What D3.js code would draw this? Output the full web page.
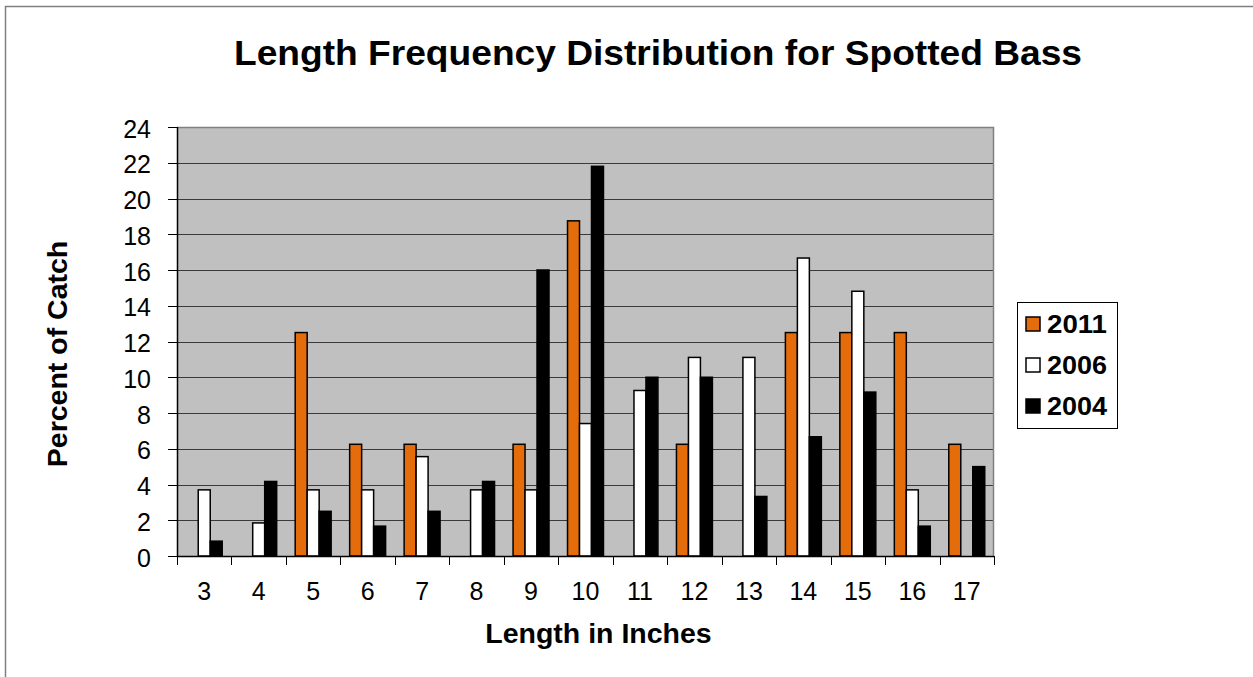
<!DOCTYPE html>
<html>
<head>
<meta charset="utf-8">
<script src="https://cdn.jsdelivr.net/npm/d3@7"></script>
<style>
  html, body { margin: 0; padding: 0; background: #fff; }
  svg { display: block; }
  text { font-family: "Liberation Sans", Arial, sans-serif; fill: #000; }
</style>
</head>
<body>
<svg id="chart" width="1253" height="677"></svg>
<script>
// Length classes (inches) and percent of catch per survey year
const lengths = [3, 4, 5, 6, 7, 8, 9, 10, 11, 12, 13, 14, 15, 16, 17];
const seriesNames = ["2011", "2006", "2004"];
const pct2011 = [0, 0, 12.5, 6.25, 6.25, 0, 6.25, 18.75, 0, 6.25, 0, 12.5, 12.5, 12.5, 6.25];
const pct2006 = [3.7, 1.85, 3.7, 3.7, 5.56, 3.7, 3.7, 7.41, 9.26, 11.11, 11.11, 16.67, 14.81, 3.7, 0];
const pct2004 = [0.83, 4.17, 2.5, 1.67, 2.5, 4.17, 16.0, 21.8, 10.0, 10.0, 3.33, 6.67, 9.17, 1.67, 5.0];
const yTicks = [0, 2, 4, 6, 8, 10, 12, 14, 16, 18, 20, 22, 24];

const seriesValues = [pct2011, pct2006, pct2004];
const fills = ["#E46C0A", "#FFFFFF", "#000000"];

const svg = d3.select("#chart");
const plot = { left: 177, right: 994, top: 127, bottom: 556 };

// frame around the chart area
svg.append("path")
  .attr("d", "M5.5,677 V6.5 H1253")
  .attr("fill", "none")
  .attr("stroke", "#808080")
  .attr("stroke-width", 1.5);

const x = d3.scaleBand()
  .domain(lengths)
  .range([plot.left, plot.right])
  .paddingInner(0.34)
  .paddingOuter(0.17);

const xs = d3.scaleBand()
  .domain(seriesNames)
  .range([0, x.bandwidth()]);

const y = d3.scaleLinear()
  .domain([0, 24])
  .range([plot.bottom, plot.top]);

// plot background
svg.append("rect")
  .attr("x", plot.left).attr("y", plot.top)
  .attr("width", plot.right - plot.left)
  .attr("height", plot.bottom - plot.top)
  .attr("fill", "#C0C0C0");

// horizontal gridlines
svg.append("g")
  .selectAll("line")
  .data(yTicks.filter(d => d > 0 && d < 24))
  .join("line")
  .attr("x1", plot.left).attr("x2", plot.right)
  .attr("y1", d => Math.round(y(d)) + 0.5)
  .attr("y2", d => Math.round(y(d)) + 0.5)
  .attr("stroke", "#3a3a3a")
  .attr("stroke-width", 1);

// top and right edges of the plot area
svg.append("path")
  .attr("d", `M${plot.left},${plot.top + 0.5} H${plot.right - 0.5} V${plot.bottom}`)
  .attr("fill", "none")
  .attr("stroke", "#808080")
  .attr("stroke-width", 1.5);

// bars
const groups = svg.append("g")
  .selectAll("g")
  .data(seriesNames)
  .join("g");

groups.each(function (name, si) {
  const vals = seriesValues[si];
  d3.select(this)
    .selectAll("rect")
    .data(lengths.map((len, i) => ({ len, v: vals[i] })).filter(d => d.v > 0))
    .join("rect")
    .attr("x", d => x(d.len) + xs(name))
    .attr("y", d => y(d.v))
    .attr("width", xs.bandwidth())
    .attr("height", d => y(0) - y(d.v))
    .attr("fill", fills[si])
    .attr("stroke", "#000")
    .attr("stroke-width", 1.5);
});

// y axis
const yAxis = svg.append("g");
yAxis.append("line")
  .attr("x1", plot.left + 0.5).attr("x2", plot.left + 0.5)
  .attr("y1", plot.top).attr("y2", plot.bottom)
  .attr("stroke", "#000").attr("stroke-width", 1.5);
yAxis.selectAll("line.tick")
  .data(yTicks)
  .join("line")
  .attr("class", "tick")
  .attr("x1", 168).attr("x2", plot.left)
  .attr("y1", d => Math.round(y(d)) + 0.5)
  .attr("y2", d => Math.round(y(d)) + 0.5)
  .attr("stroke", "#000").attr("stroke-width", 1);
yAxis.selectAll("text")
  .data(yTicks)
  .join("text")
  .attr("x", 151)
  .attr("y", d => y(d) + 10.5)
  .attr("text-anchor", "end")
  .style("font-size", "25px")
  .text(d => d);

// x axis
const xAxis = svg.append("g");
xAxis.append("line")
  .attr("x1", plot.left).attr("x2", plot.right)
  .attr("y1", plot.bottom + 0.5).attr("y2", plot.bottom + 0.5)
  .attr("stroke", "#000").attr("stroke-width", 1.5);
const boundaries = lengths.map(d => x(d) - x.step() * x.paddingInner() / 2).concat([plot.right]);
xAxis.selectAll("line.tick")
  .data(boundaries)
  .join("line")
  .attr("class", "tick")
  .attr("x1", d => Math.round(d) + 0.5).attr("x2", d => Math.round(d) + 0.5)
  .attr("y1", plot.bottom).attr("y2", plot.bottom + 9)
  .attr("stroke", "#000").attr("stroke-width", 1);
xAxis.selectAll("text")
  .data(lengths)
  .join("text")
  .attr("x", d => x(d) + x.bandwidth() / 2)
  .attr("y", 600)
  .attr("text-anchor", "middle")
  .style("font-size", "25px")
  .text(d => d);

// titles
svg.append("text")
  .attr("x", 658).attr("y", 65)
  .attr("text-anchor", "middle")
  .attr("textLength", 848)
  .attr("lengthAdjust", "spacingAndGlyphs")
  .style("font-size", "35px").style("font-weight", "bold")
  .text("Length Frequency Distribution for Spotted Bass");

svg.append("text")
  .attr("x", 598.5).attr("y", 643.3)
  .attr("text-anchor", "middle")
  .style("font-size", "28.5px").style("font-weight", "bold")
  .text("Length in Inches");

svg.append("text")
  .attr("transform", "translate(67,354) rotate(-90)")
  .attr("text-anchor", "middle")
  .style("font-size", "28.5px").style("font-weight", "bold")
  .text("Percent of Catch");

// legend
const legend = svg.append("g");
legend.append("rect")
  .attr("x", 1017.5).attr("y", 302.5)
  .attr("width", 100).attr("height", 126)
  .attr("fill", "#fff")
  .attr("stroke", "#000").attr("stroke-width", 1);
const rowY = d3.scalePoint().domain(seriesNames).range([324, 406]);
legend.selectAll("rect.key")
  .data(seriesNames)
  .join("rect")
  .attr("class", "key")
  .attr("x", 1026).attr("y", d => rowY(d) - 7)
  .attr("width", 14).attr("height", 14)
  .attr("fill", (d, i) => fills[i])
  .attr("stroke", "#000").attr("stroke-width", 1.5);
legend.selectAll("text")
  .data(seriesNames)
  .join("text")
  .attr("x", 1047).attr("y", d => rowY(d) + 9)
  .attr("textLength", 60)
  .attr("lengthAdjust", "spacingAndGlyphs")
  .style("font-size", "26px").style("font-weight", "bold")
  .text(d => d);
</script>
</body>
</html>
